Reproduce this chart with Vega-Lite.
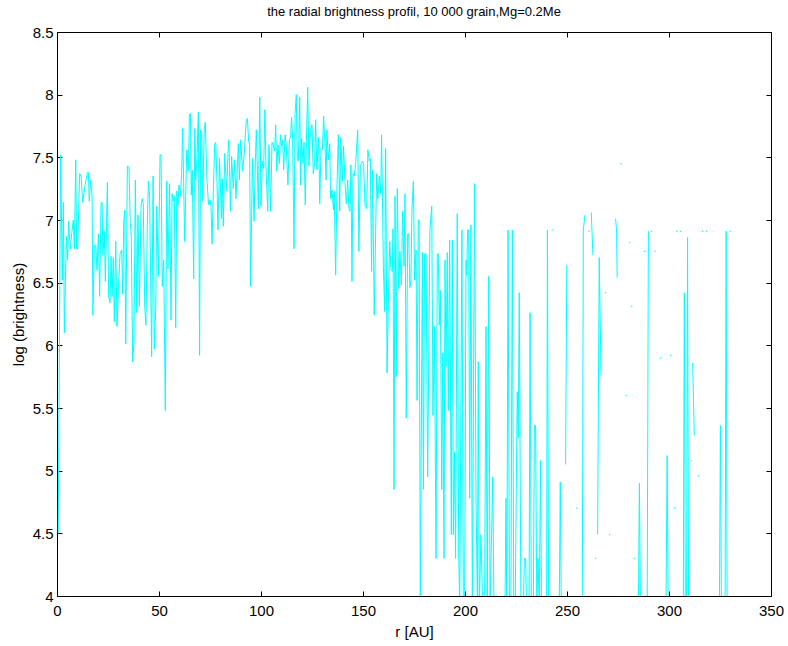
{
  "$schema": "https://vega.github.io/schema/vega-lite/v6.json",
  "width": 714,
  "height": 564,
  "autosize": {"type": "none"},
  "padding": {"left": 57, "top": 32, "right": 17, "bottom": 50},
  "background": "white",
  "title": {
    "text": "the radial brightness profil, 10 000 grain,Mg=0.2Me",
    "fontSize": 13,
    "fontWeight": "normal",
    "font": "Liberation Sans",
    "color": "black",
    "offset": 6
  },
  "config": {
    "view": {"stroke": null},
    "axis": {
      "grid": false,
      "labelFont": "Liberation Sans",
      "titleFont": "Liberation Sans",
      "labelFontSize": 15,
      "titleFontSize": 15,
      "titleFontWeight": "normal",
      "labelColor": "black",
      "titleColor": "black",
      "domainColor": "black",
      "domainWidth": 1,
      "tickColor": "black",
      "tickWidth": 1,
      "tickSize": -5
    }
  },
  "datasets": {
    "profile": [
      {"r": 0.6, "b": 4.5}, {"r": 1.8, "b": 7.52}, {"r": 2.6, "b": 6.52}, {"r": 3.1, "b": 7.14}, {"r": 3.6, "b": 6.10},
      {"r": 4.6, "b": 6.87}, {"r": 5.2, "b": 6.68}, {"r": 5.7, "b": 6.99}, {"r": 6.5, "b": 6.77}, {"r": 7.2, "b": 6.89},
      {"r": 8.0, "b": 7.00}, {"r": 8.5, "b": 6.77}, {"r": 9.2, "b": 7.48}, {"r": 9.6, "b": 6.77}, {"r": 10.1, "b": 6.77},
      {"r": 11.1, "b": 7.37}, {"r": 11.8, "b": 7.35}, {"r": 12.6, "b": 7.14}, {"r": 13.7, "b": 7.27}, {"r": 14.9, "b": 7.38},
      {"r": 15.4, "b": 7.38}, {"r": 15.8, "b": 7.15}, {"r": 16.5, "b": 7.32}, {"r": 17.2, "b": 7.19}, {"r": 17.6, "b": 6.24},
      {"r": 18.3, "b": 6.80}, {"r": 19.0, "b": 6.80}, {"r": 19.6, "b": 6.60}, {"r": 20.3, "b": 6.89}, {"r": 20.9, "b": 6.39},
      {"r": 21.6, "b": 7.14}, {"r": 22.1, "b": 7.14}, {"r": 22.5, "b": 6.72}, {"r": 23.2, "b": 6.91}, {"r": 23.7, "b": 6.51},
      {"r": 24.7, "b": 7.30}, {"r": 25.3, "b": 6.39}, {"r": 26.0, "b": 6.34}, {"r": 26.5, "b": 6.71}, {"r": 27.0, "b": 6.39},
      {"r": 27.6, "b": 6.70}, {"r": 28.1, "b": 6.19}, {"r": 28.8, "b": 6.83}, {"r": 29.4, "b": 6.15}, {"r": 30.1, "b": 6.44},
      {"r": 30.9, "b": 6.73}, {"r": 31.7, "b": 6.76}, {"r": 32.2, "b": 6.41}, {"r": 32.7, "b": 6.98}, {"r": 33.2, "b": 7.08},
      {"r": 33.7, "b": 6.01}, {"r": 34.5, "b": 7.43}, {"r": 35.3, "b": 7.42}, {"r": 35.9, "b": 6.98}, {"r": 36.4, "b": 6.87},
      {"r": 37.1, "b": 5.87}, {"r": 37.7, "b": 6.02}, {"r": 38.4, "b": 7.32}, {"r": 39.1, "b": 6.26}, {"r": 39.7, "b": 7.04},
      {"r": 40.4, "b": 6.31}, {"r": 41.2, "b": 7.12}, {"r": 41.8, "b": 7.17}, {"r": 42.3, "b": 7.13}, {"r": 43.0, "b": 6.31},
      {"r": 43.6, "b": 6.16}, {"r": 44.3, "b": 7.00}, {"r": 44.8, "b": 7.31}, {"r": 45.4, "b": 7.19}, {"r": 46.4, "b": 5.91},
      {"r": 47.1, "b": 7.35}, {"r": 47.7, "b": 5.97}, {"r": 48.4, "b": 6.31}, {"r": 48.9, "b": 7.11}, {"r": 49.7, "b": 6.55},
      {"r": 50.5, "b": 7.52}, {"r": 51.0, "b": 7.52}, {"r": 51.6, "b": 6.47}, {"r": 52.3, "b": 6.68}, {"r": 53.1, "b": 5.48},
      {"r": 53.8, "b": 7.31}, {"r": 54.4, "b": 6.61}, {"r": 55.2, "b": 7.29}, {"r": 55.9, "b": 6.20}, {"r": 56.4, "b": 7.21},
      {"r": 57.0, "b": 7.15}, {"r": 57.5, "b": 7.19}, {"r": 58.2, "b": 6.14}, {"r": 58.7, "b": 7.23}, {"r": 59.3, "b": 7.11},
      {"r": 59.8, "b": 7.28}, {"r": 60.5, "b": 7.19}, {"r": 61.1, "b": 7.37}, {"r": 61.6, "b": 7.73}, {"r": 62.6, "b": 6.83},
      {"r": 63.6, "b": 7.56}, {"r": 64.4, "b": 7.39}, {"r": 64.9, "b": 7.84}, {"r": 65.4, "b": 7.85}, {"r": 65.8, "b": 7.20},
      {"r": 66.3, "b": 7.40}, {"r": 67.0, "b": 6.53}, {"r": 67.5, "b": 7.73}, {"r": 68.0, "b": 7.32}, {"r": 68.6, "b": 7.49},
      {"r": 69.3, "b": 7.86}, {"r": 69.9, "b": 5.92}, {"r": 70.4, "b": 7.72}, {"r": 70.9, "b": 7.69}, {"r": 71.4, "b": 7.15},
      {"r": 72.2, "b": 7.73}, {"r": 72.7, "b": 7.78}, {"r": 73.5, "b": 7.32}, {"r": 74.3, "b": 7.12}, {"r": 75.0, "b": 7.16},
      {"r": 75.5, "b": 7.11}, {"r": 76.0, "b": 6.81}, {"r": 76.6, "b": 7.21}, {"r": 77.3, "b": 7.60}, {"r": 77.8, "b": 7.62},
      {"r": 78.4, "b": 7.32}, {"r": 78.9, "b": 6.92}, {"r": 79.7, "b": 7.49}, {"r": 80.6, "b": 7.01}, {"r": 81.0, "b": 7.33},
      {"r": 81.5, "b": 6.95}, {"r": 82.2, "b": 7.53}, {"r": 83.2, "b": 7.23}, {"r": 83.8, "b": 7.53}, {"r": 84.3, "b": 7.64},
      {"r": 85.0, "b": 7.07}, {"r": 85.6, "b": 7.51}, {"r": 86.4, "b": 7.25}, {"r": 87.1, "b": 7.48}, {"r": 87.7, "b": 7.17},
      {"r": 88.9, "b": 7.61}, {"r": 89.4, "b": 7.32}, {"r": 90.0, "b": 7.64}, {"r": 91.0, "b": 7.39}, {"r": 91.7, "b": 7.51},
      {"r": 92.8, "b": 7.80}, {"r": 93.3, "b": 7.81}, {"r": 94.0, "b": 7.62}, {"r": 94.4, "b": 7.62}, {"r": 94.9, "b": 6.47},
      {"r": 95.8, "b": 7.49}, {"r": 96.6, "b": 6.99}, {"r": 97.2, "b": 7.45}, {"r": 97.7, "b": 7.72}, {"r": 98.7, "b": 7.09},
      {"r": 99.4, "b": 7.98}, {"r": 100.0, "b": 7.11}, {"r": 100.6, "b": 7.47}, {"r": 101.3, "b": 7.41}, {"r": 101.9, "b": 7.88},
      {"r": 102.4, "b": 7.44}, {"r": 103.3, "b": 7.07}, {"r": 103.9, "b": 7.60}, {"r": 104.7, "b": 7.07}, {"r": 105.4, "b": 7.62},
      {"r": 106.0, "b": 7.60}, {"r": 106.7, "b": 7.55}, {"r": 107.2, "b": 7.76}, {"r": 107.7, "b": 7.39}, {"r": 108.3, "b": 7.60},
      {"r": 109.0, "b": 7.45}, {"r": 109.5, "b": 7.68}, {"r": 110.1, "b": 7.59}, {"r": 110.6, "b": 7.64}, {"r": 111.1, "b": 7.40},
      {"r": 111.8, "b": 7.68}, {"r": 112.4, "b": 7.59}, {"r": 113.2, "b": 7.28}, {"r": 113.9, "b": 7.64}, {"r": 114.5, "b": 7.66},
      {"r": 115.0, "b": 7.82}, {"r": 115.5, "b": 7.65}, {"r": 116.2, "b": 6.77}, {"r": 116.7, "b": 7.85}, {"r": 117.3, "b": 8.00},
      {"r": 117.8, "b": 7.48}, {"r": 118.3, "b": 7.47}, {"r": 119.0, "b": 7.98}, {"r": 119.4, "b": 7.28}, {"r": 119.9, "b": 7.65},
      {"r": 120.6, "b": 7.45}, {"r": 121.1, "b": 7.62}, {"r": 121.7, "b": 7.12}, {"r": 122.2, "b": 7.59}, {"r": 122.9, "b": 8.06},
      {"r": 123.5, "b": 7.43}, {"r": 124.2, "b": 7.72}, {"r": 125.0, "b": 7.76}, {"r": 125.6, "b": 7.37}, {"r": 126.3, "b": 7.45},
      {"r": 126.8, "b": 7.80}, {"r": 127.4, "b": 7.40}, {"r": 128.3, "b": 7.66}, {"r": 128.8, "b": 7.13}, {"r": 129.4, "b": 7.57},
      {"r": 130.1, "b": 7.56}, {"r": 130.7, "b": 7.83}, {"r": 131.4, "b": 7.59}, {"r": 131.9, "b": 7.32}, {"r": 132.3, "b": 7.72},
      {"r": 133.0, "b": 7.48}, {"r": 133.7, "b": 7.61}, {"r": 134.1, "b": 7.17}, {"r": 134.8, "b": 7.24}, {"r": 135.5, "b": 7.08},
      {"r": 135.9, "b": 7.23}, {"r": 136.6, "b": 6.56}, {"r": 137.2, "b": 7.23}, {"r": 137.9, "b": 7.68}, {"r": 138.6, "b": 7.07},
      {"r": 139.1, "b": 7.66}, {"r": 139.9, "b": 7.31}, {"r": 140.5, "b": 7.59}, {"r": 141.2, "b": 7.29}, {"r": 141.8, "b": 7.13},
      {"r": 142.5, "b": 7.32}, {"r": 143.1, "b": 7.09}, {"r": 143.6, "b": 7.07}, {"r": 144.1, "b": 7.44}, {"r": 144.6, "b": 6.51},
      {"r": 145.1, "b": 7.37}, {"r": 145.7, "b": 7.35}, {"r": 146.4, "b": 7.45}, {"r": 147.4, "b": 7.72}, {"r": 148.0, "b": 6.75},
      {"r": 148.7, "b": 7.43}, {"r": 149.7, "b": 7.47}, {"r": 150.3, "b": 7.45}, {"r": 151.0, "b": 7.11}, {"r": 151.8, "b": 7.09},
      {"r": 152.4, "b": 7.56}, {"r": 153.1, "b": 7.47}, {"r": 153.6, "b": 7.49}, {"r": 154.2, "b": 6.59}, {"r": 154.7, "b": 7.40},
      {"r": 155.5, "b": 6.24}, {"r": 156.7, "b": 7.37}, {"r": 157.3, "b": 7.17}, {"r": 158.0, "b": 7.35}, {"r": 158.7, "b": 7.21},
      {"r": 159.1, "b": 7.68}, {"r": 160.0, "b": 6.63}, {"r": 160.6, "b": 6.27}, {"r": 161.1, "b": 7.57}, {"r": 161.8, "b": 5.78},
      {"r": 162.4, "b": 6.32}, {"r": 163.1, "b": 6.83}, {"r": 163.7, "b": 6.60}, {"r": 164.4, "b": 6.59}, {"r": 164.7, "b": 6.93},
      {"r": 165.2, "b": 4.85}, {"r": 165.7, "b": 7.19}, {"r": 166.3, "b": 5.75}, {"r": 166.8, "b": 7.25}, {"r": 167.5, "b": 6.45},
      {"r": 168.1, "b": 6.75}, {"r": 168.8, "b": 6.48}, {"r": 169.4, "b": 7.07}, {"r": 170.1, "b": 6.63}, {"r": 170.6, "b": 7.21},
      {"r": 171.2, "b": 5.42}, {"r": 171.9, "b": 6.89}, {"r": 172.4, "b": 6.89}, {"r": 173.0, "b": 6.46}, {"r": 173.5, "b": 6.52},
      {"r": 174.0, "b": 7.09}, {"r": 174.7, "b": 7.31}, {"r": 175.3, "b": 6.52}, {"r": 176.0, "b": 6.76}, {"r": 176.5, "b": 5.56},
      {"r": 177.1, "b": 7.00}, {"r": 177.5, "b": 7.00}, {"r": 178.1, "b": 3.9}, {"r": 179.1, "b": 6.74}, {"r": 179.6, "b": 4.85},
      {"r": 180.2, "b": 6.73}, {"r": 180.9, "b": 6.73}, {"r": 181.7, "b": 4.95}, {"r": 182.8, "b": 6.92}, {"r": 183.7, "b": 7.11},
      {"r": 184.3, "b": 5.44}, {"r": 185.0, "b": 6.15}, {"r": 185.8, "b": 4.30}, {"r": 186.4, "b": 6.73}, {"r": 186.9, "b": 6.73},
      {"r": 187.4, "b": 6.16}, {"r": 187.9, "b": 6.44}, {"r": 188.6, "b": 4.85}, {"r": 189.1, "b": 5.94}, {"r": 189.7, "b": 4.30},
      {"r": 190.2, "b": 6.68}, {"r": 190.7, "b": 5.83}, {"r": 191.3, "b": 6.74}, {"r": 191.8, "b": 5.48}, {"r": 192.5, "b": 6.84},
      {"r": 193.3, "b": 4.49}, {"r": 193.8, "b": 6.84}, {"r": 194.3, "b": 4.49}, {"r": 194.8, "b": 5.15}, {"r": 195.4, "b": 4.30},
      {"r": 196.2, "b": 7.05}, {"r": 196.9, "b": 4.35}, {"r": 197.4, "b": 3.9}, {"r": 198.5, "b": 6.92}, {"r": 199.2, "b": 3.9},
      {"r": 199.8, "b": 3.9}, {"r": 200.5, "b": 6.68}, {"r": 200.8, "b": 6.56}, {"r": 201.3, "b": 6.92}, {"r": 201.8, "b": 6.92},
      {"r": 202.3, "b": 4.78}, {"r": 202.9, "b": 6.96}, {"r": 203.6, "b": 3.9}, {"r": 204.7, "b": 7.29}, {"r": 205.4, "b": 4.78},
      {"r": 206.1, "b": 3.9}, {"r": 206.5, "b": 5.87}, {"r": 207.0, "b": 3.9}, {"r": 207.8, "b": 4.49}, {"r": 208.7, "b": 3.9},
      {"r": 209.6, "b": 3.9}, {"r": 210.3, "b": 6.15}, {"r": 210.9, "b": 3.9}, {"r": 211.6, "b": 6.55}, {"r": 212.3, "b": 3.9},
      {"r": 213.6, "b": 4.95}, {"r": 214.2, "b": 3.9}, {"r": 216.0, "b": null},
      {"r": 219.6, "b": 3.9}, {"r": 220.1, "b": 4.78}, {"r": 220.5, "b": 3.9}, {"r": 221.1, "b": 6.92}, {"r": 221.8, "b": 3.9},
      {"r": 222.5, "b": 3.9}, {"r": 223.2, "b": 6.92}, {"r": 223.9, "b": 3.9}, {"r": 224.6, "b": 3.9}, {"r": 225.6, "b": 5.63},
      {"r": 226.1, "b": 5.26}, {"r": 226.6, "b": 6.42}, {"r": 227.4, "b": 3.9}, {"r": 228.0, "b": null},
      {"r": 228.6, "b": 3.9}, {"r": 229.1, "b": 4.30}, {"r": 229.7, "b": 4.30}, {"r": 230.2, "b": 3.9}, {"r": 230.8, "b": null},
      {"r": 231.4, "b": 3.9}, {"r": 231.9, "b": 6.26}, {"r": 232.5, "b": 3.9}, {"r": 233.5, "b": 3.9}, {"r": 234.0, "b": 5.36},
      {"r": 234.6, "b": 5.36}, {"r": 235.2, "b": 3.9}, {"r": 235.8, "b": 4.30}, {"r": 236.4, "b": 3.9}, {"r": 237.0, "b": 5.08},
      {"r": 237.5, "b": 3.9}, {"r": 238.5, "b": null},
      {"r": 240.0, "b": 3.9}, {"r": 240.4, "b": 6.92}, {"r": 241.0, "b": 3.9}, {"r": 243.5, "b": null},
      {"r": 246.2, "b": 3.9}, {"r": 246.7, "b": 4.91}, {"r": 247.2, "b": 3.9}, {"r": 248.5, "b": null},
      {"r": 249.3, "b": 5.05}, {"r": 249.9, "b": 6.64}, {"r": 252.0, "b": null},
      {"r": 257.5, "b": 3.9}, {"r": 258.0, "b": 6.92}, {"r": 258.8, "b": 7.04}, {"r": 260.0, "b": null},
      {"r": 261.9, "b": 7.06}, {"r": 262.7, "b": 6.72}, {"r": 263.5, "b": null},
      {"r": 265.0, "b": 4.49}, {"r": 265.8, "b": 6.70}, {"r": 266.7, "b": 5.76}, {"r": 268.0, "b": null},
      {"r": 273.8, "b": 7.01}, {"r": 274.3, "b": 6.92}, {"r": 274.6, "b": 6.54}, {"r": 276.0, "b": null},
      {"r": 285.0, "b": 3.9}, {"r": 285.5, "b": 4.90}, {"r": 286.0, "b": 3.9}, {"r": 287.0, "b": null},
      {"r": 289.3, "b": 3.9}, {"r": 289.9, "b": 6.91}, {"r": 290.8, "b": null},
      {"r": 298.5, "b": 3.9}, {"r": 299.1, "b": 5.12}, {"r": 299.6, "b": 3.9}, {"r": 301.5, "b": null},
      {"r": 307.0, "b": 3.9}, {"r": 307.5, "b": 6.42}, {"r": 308.0, "b": 3.9}, {"r": 308.6, "b": 3.9}, {"r": 309.1, "b": 6.86},
      {"r": 309.6, "b": 3.9}, {"r": 310.5, "b": null},
      {"r": 311.6, "b": 5.86}, {"r": 312.4, "b": 5.28}, {"r": 313.5, "b": null},
      {"r": 324.7, "b": 3.9}, {"r": 325.2, "b": 5.36}, {"r": 325.7, "b": 3.9}, {"r": 326.8, "b": null},
      {"r": 327.5, "b": 3.9}, {"r": 328.0, "b": 6.91}, {"r": 328.5, "b": 3.9}, {"r": 329.5, "b": null}
    ],
    "isolated": [
      {"r": 242.8, "b": 6.92}, {"r": 254.9, "b": 4.70}, {"r": 260.8, "b": 6.91}, {"r": 264.0, "b": 4.30},
      {"r": 268.9, "b": 6.42}, {"r": 270.9, "b": 4.49}, {"r": 276.5, "b": 7.45}, {"r": 279.1, "b": 5.60},
      {"r": 280.7, "b": 6.82}, {"r": 281.7, "b": 6.31}, {"r": 283.0, "b": 4.30}, {"r": 288.0, "b": 6.75},
      {"r": 291.5, "b": 6.91}, {"r": 293.2, "b": 6.75}, {"r": 295.9, "b": 5.90}, {"r": 300.8, "b": 5.92},
      {"r": 302.8, "b": 4.70}, {"r": 303.8, "b": 6.91}, {"r": 305.7, "b": 6.91}, {"r": 311.0, "b": 5.08},
      {"r": 314.4, "b": 4.96}, {"r": 316.5, "b": 6.91}, {"r": 318.5, "b": 6.91}, {"r": 329.9, "b": 6.91}
    ]
  },
  "resolve": {"axis": {"x": "independent", "y": "independent"}},
  "layer": [
    {
      "data": {"name": "profile"},
      "mark": {
        "type": "line",
        "color": "#00ffff",
        "strokeWidth": 1,
        "clip": true,
        "invalid": "break-paths-filter-domains"
      },
      "encoding": {
        "x": {
          "field": "r",
          "type": "quantitative",
          "scale": {"domain": [0, 350], "nice": false, "zero": false},
          "axis": {
            "orient": "bottom",
            "title": "r [AU]",
            "values": [0, 50, 100, 150, 200, 250, 300, 350],
            "format": "d",
            "labelPadding": 12,
            "titlePadding": 6,
            "labelFlush": false
          }
        },
        "y": {
          "field": "b",
          "type": "quantitative",
          "scale": {"domain": [4, 8.5], "nice": false, "zero": false},
          "axis": {
            "orient": "left",
            "title": "log (brightness)",
            "values": [4, 4.5, 5, 5.5, 6, 6.5, 7, 7.5, 8, 8.5],
            "format": "~g",
            "labelPadding": 9,
            "titlePadding": 6,
            "labelFlush": false
          }
        }
      }
    },
    {
      "data": {"name": "isolated"},
      "mark": {"type": "square", "color": "#00ffff", "size": 2, "opacity": 0.8, "clip": true},
      "encoding": {
        "x": {
          "field": "r",
          "type": "quantitative",
          "scale": {"domain": [0, 350], "nice": false, "zero": false},
          "axis": {
            "orient": "top",
            "title": null,
            "labels": false,
            "values": [0, 50, 100, 150, 200, 250, 300, 350]
          }
        },
        "y": {
          "field": "b",
          "type": "quantitative",
          "scale": {"domain": [4, 8.5], "nice": false, "zero": false},
          "axis": {
            "orient": "right",
            "title": null,
            "labels": false,
            "values": [4, 4.5, 5, 5.5, 6, 6.5, 7, 7.5, 8, 8.5]
          }
        }
      }
    }
  ]
}
